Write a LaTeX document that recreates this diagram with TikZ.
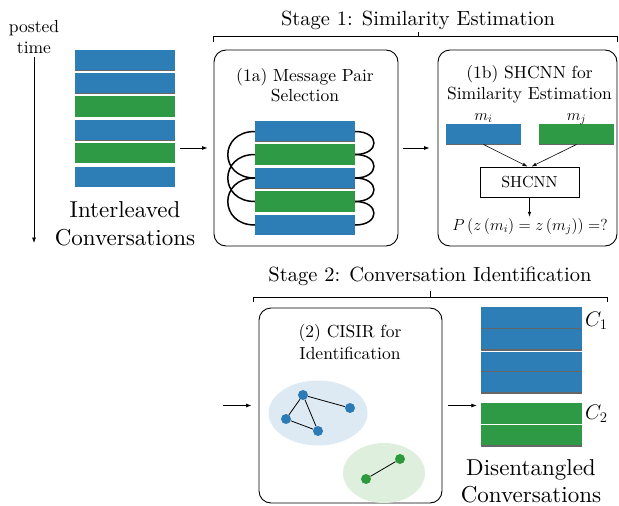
\RequirePackage{fix-cm}
\documentclass[tikz,border=0pt]{standalone}
\usepackage{fontspec}
\setmainfont{lmroman10-regular}[Extension=.otf]
\usetikzlibrary{arrows.meta,shapes.geometric,fit}

\definecolor{msgblue}{RGB}{45,125,182}
\definecolor{msggreen}{RGB}{46,154,70}
\definecolor{clublue}{RGB}{222,234,243}
\definecolor{clugreen}{RGB}{223,239,222}
\definecolor{nodeblue}{RGB}{44,123,182}
\definecolor{nodegreen}{RGB}{44,154,60}

\tikzset{
  msg/.style={rectangle, inner sep=0pt, minimum height=20.5pt},
  bluemsg/.style={msg, fill=msgblue},
  greenmsg/.style={msg, fill=msggreen},
  shadow line/.style={path picture={
      \draw[black!60, line width=1.3pt]
        (path picture bounding box.south west) -- (path picture bounding box.south east);}},
  stagebox/.style={draw, line width=0.9pt, rounded corners=12pt, inner sep=0pt},
  arr/.style={-{Latex[length=5.5pt,width=4pt]}, line width=0.7pt},
  brace/.style={line width=0.8pt},
  txt/.style={inner sep=0pt, align=center},
  loop/.style={line width=1.5pt},
  vertex/.style={circle, inner sep=0pt, minimum size=10pt},
  edge/.style={line width=0.8pt},
}

\begin{document}
\begin{tikzpicture}[x=1pt,y=-1pt]
\useasboundingbox (0,0) rectangle (619,506);

% ---- time axis ----
\node[txt, anchor=north, font=\fontsize{17.5}{21}\selectfont] (ptime) at (34,20) {posted\\time};
\coordinate (tEnd) at (34,243);
\draw[arr] (ptime.south |- 0,57) -- (tEnd);

% ---- interleaved messages ----
\node[bluemsg, shadow line, minimum width=100pt] (L1) at (125,60) {};
\node[bluemsg, shadow line, minimum width=100pt] (L2) at (125,83.2) {};
\node[greenmsg, minimum width=100pt] (L3) at (125,106.5) {};
\node[bluemsg, shadow line, minimum width=100pt] (L4) at (125,130) {};
\node[greenmsg, minimum width=100pt] (L5) at (125,153) {};
\node[bluemsg, minimum width=100pt] (L6) at (125,177) {};
\node[fit=(L1)(L6), inner sep=0pt] (stack) {};
\node[txt, anchor=north, font=\fontsize{23}{28}\selectfont] (interl) at (125,201) {Interleaved\\Conversations};

% ---- stage 1 ----
\draw[brace] (213,42) -- (213,36.5) -- (617,36.5) -- (617,42);
\draw[brace] (418,36.5) -- (418,31.5);
\node[inner sep=0pt, anchor=base, font=\fontsize{20.5}{24}\selectfont] (stage1) at (418,25) {Stage 1: Similarity Estimation};

% (1a) message pair selection
\node[stagebox, minimum width=184pt, minimum height=196pt] (box1a) at (306,148) {};
\node[txt, anchor=north, font=\fontsize{17.5}{20.5}\selectfont] (t1a) at (305,68) {(1a) Message Pair\\Selection};
\node[bluemsg, shadow line, minimum width=100pt] (A1) at (305,131.5) {};
\node[greenmsg, minimum width=100pt] (A2) at (305,154.5) {};
\node[bluemsg, shadow line, minimum width=100pt] (A3) at (305,178) {};
\node[greenmsg, minimum width=100pt] (A4) at (305,201.5) {};
\node[bluemsg, minimum width=100pt] (A5) at (305,225) {};
% neighbouring pairs on the right
\draw[loop] (A1.east) .. controls +(25,0) and +(25,0) .. (A2.east);
\draw[loop] (A2.east) .. controls +(25,0) and +(25,0) .. (A3.east);
\draw[loop] (A3.east) .. controls +(25,0) and +(25,0) .. (A4.east);
\draw[loop] (A4.east) .. controls +(25,0) and +(25,0) .. (A5.east);
% pairs two apart on the left
\draw[loop] (A1.west) .. controls +(-36,0) and +(-36,0) .. (A3.west);
\draw[loop] (A2.west) .. controls +(-36,0) and +(-36,0) .. (A4.west);
\draw[loop] (A3.west) .. controls +(-36,0) and +(-36,0) .. (A5.west);

% (1b) SHCNN
\node[stagebox, minimum width=179pt, minimum height=196pt] (box1b) at (527.5,148) {};
\node[txt, anchor=north, font=\fontsize{17.5}{21}\selectfont] (t1b) at (529.5,65) {(1b) SHCNN for\\Similarity Estimation};
\node[bluemsg, shadow line, minimum width=75pt] (mi) at (483.5,134) {};
\node[greenmsg, shadow line, minimum width=75pt] (mj) at (576.5,134) {};
\node[inner sep=0pt, anchor=base, font=\fontsize{16}{19}\selectfont] (lmi) at (483.5,120) {$m_i$};
\node[inner sep=0pt, anchor=base, font=\fontsize{16}{19}\selectfont] (lmj) at (576.5,120) {$m_j$};
\node[draw, line width=0.9pt, inner sep=0pt, minimum width=99pt, minimum height=30pt,
      font=\fontsize{16}{18}\selectfont] (shcnn) at (529.5,182) {SHCNN};
\draw[-{Latex[length=5pt,width=3.5pt]}, line width=0.6pt] (mi.south) -- ([xshift=-2pt]shcnn.north);
\draw[-{Latex[length=5pt,width=3.5pt]}, line width=0.6pt] (mj.south) -- ([xshift=2pt]shcnn.north);
\node[inner sep=1pt, anchor=base, font=\fontsize{16}{19}\selectfont] (prob) at (530,230)
  {$P\left(z\left(m_i\right)=z\left(m_j\right)\right)=?$};
\draw[-{Latex[length=5pt,width=3.5pt]}, line width=0.6pt] (shcnn.south) -- (shcnn.south |- prob.north);

\draw[arr, shorten <=5pt, shorten >=6pt] (stack.east |- box1a.west) -- (box1a.west);
\draw[arr, shorten <=5pt, shorten >=8pt] (box1a.east) -- (box1b.west);

% ---- stage 2 ----
\draw[brace] (253,302) -- (253,297) -- (607,297) -- (607,302);
\draw[brace] (430,297) -- (430,291);
\node[inner sep=0pt, anchor=base, font=\fontsize{20.5}{24}\selectfont] (stage2) at (430,281) {Stage 2: Conversation Identification};

\node[stagebox, minimum width=183pt, minimum height=195pt] (box2) at (350.5,405.5) {};
\node[txt, anchor=north, font=\fontsize{17.5}{22}\selectfont] (t2) at (350,324) {(2) CISIR for\\Identification};

\node[ellipse, fill=clublue, minimum width=99pt, minimum height=65pt] (cluB) at (318,413) {};
\node[ellipse, fill=clugreen, minimum width=82pt, minimum height=60pt] (cluG) at (384,473) {};

\node[vertex, fill=nodeblue] (b1) at (303,395) {};
\node[vertex, fill=nodeblue] (b2) at (350,408) {};
\node[vertex, fill=nodeblue] (b3) at (286,419) {};
\node[vertex, fill=nodeblue] (b4) at (318,431) {};
\draw[edge] (b1) -- (b2);
\draw[edge] (b1) -- (b3);
\draw[edge] (b1) -- (b4);
\draw[edge] (b3) -- (b4);
\node[vertex, fill=nodegreen] (g1) at (400,459) {};
\node[vertex, fill=nodegreen] (g2) at (366,479) {};
\draw[edge] (g1) -- (g2);

% disentangled output
\node[bluemsg, shadow line, minimum width=101pt, minimum height=22pt] (C1a) at (531.5,318) {};
\node[bluemsg, shadow line, minimum width=101pt, minimum height=21pt] (C1b) at (531.5,339.5) {};
\node[bluemsg, shadow line, minimum width=101pt, minimum height=20pt] (C1c) at (531.5,362) {};
\node[bluemsg, shadow line, minimum width=101pt, minimum height=21pt] (C1d) at (531.5,382.5) {};
\node[greenmsg, minimum width=101pt, minimum height=21pt] (G1) at (531.5,413.5) {};
\node[greenmsg, shadow line, minimum width=101pt, minimum height=21pt] (G2) at (531.5,435.5) {};
\node[inner sep=0pt, anchor=base west, font=\fontsize{21}{24}\selectfont] (c1) at (585,326) {$C_1$};
\node[inner sep=0pt, anchor=base west, font=\fontsize{21}{24}\selectfont] (c2) at (585,419) {$C_2$};
\node[txt, anchor=north, font=\fontsize{23}{27}\selectfont] (disent) at (531,459) {Disentangled\\Conversations};

\coordinate (s2in) at (223,405.5);
\draw[arr, shorten >=7pt] (s2in) -- (box2.west);
\draw[arr, shorten <=6pt, shorten >=4pt] (box2.east) -- (box2.east -| G1.west);
\end{tikzpicture}
\end{document}
